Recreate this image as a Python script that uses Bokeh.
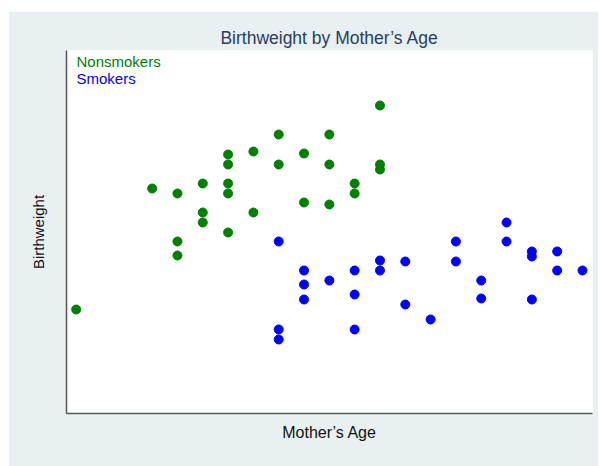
from bokeh.plotting import figure
from bokeh.models import Label, Range1d
from bokeh.embed import file_html
from bokeh.resources import INLINE

# Mother's age (years) and birthweight (grams)
nonsmoker_age = [27, 23, 25, 21, 22, 24, 21, 23, 25, 27, 27, 18, 19, 20, 21, 21,
                 26, 26, 24, 25, 20, 22, 20, 21, 19, 19, 15]
nonsmoker_bw = [4080, 3790, 3790, 3590, 3620, 3600, 3490, 3490, 3490, 3490, 3440,
                3250, 3200, 3300, 3300, 3200, 3300, 3200, 3110, 3090, 3010, 3010,
                2910, 2810, 2720, 2580, 2040]

smoker_age = [23, 24, 24, 24, 25, 26, 26, 26, 27, 27, 28, 28, 29, 30, 30, 31, 31,
              32, 32, 33, 33, 33, 34, 34, 35, 23, 23]
smoker_bw = [2720, 2430, 2290, 2140, 2330, 2430, 2190, 1840, 2530, 2430, 2520,
             2090, 1940, 2720, 2520, 2330, 2150, 2910, 2720, 2620, 2570, 2140,
             2620, 2430, 2430, 1840, 1740]

series_names = ["Nonsmokers", "Smokers"]
series_colors = ["#008000", "#0000ff"]

BG = "#e8f0f2"
FONT = "Liberation Sans"

W, H = 590, 455
BL, BR, BT, BB = 58, 6, 39, 53
FRAME_H = H - BT - BB

p = figure(width=W, height=H, output_backend="svg", toolbar_location=None,
           x_range=Range1d(14.617, 35.395), y_range=Range1d(1000, 4630),
           min_border_left=BL, min_border_right=BR, min_border_top=BT,
           min_border_bottom=BB)
p.margin = (11, 2, 0, 8)
p.background_fill_color = "white"
p.border_fill_color = BG
p.outline_line_color = None
p.grid.visible = False

p.scatter(nonsmoker_age, nonsmoker_bw, size=9, color=series_colors[0])
p.scatter(smoker_age, smoker_bw, size=9, color=series_colors[1])

p.title.text = "Birthweight by Mother\u2019s Age"
p.title.align = "center"
p.title.text_font = FONT
p.title.text_font_size = "17.5px"
p.title.text_font_style = "normal"
p.title.text_color = "#2a3f5f"
p.title.standoff = 6

for ax in (p.xaxis[0], p.yaxis[0]):
    ax.ticker = []
    ax.major_tick_line_color = None
    ax.minor_tick_line_color = None
    ax.major_label_text_font_size = "0px"
    ax.axis_line_color = "#555555"
    ax.axis_line_width = 1.5
    ax.axis_label_text_font = FONT
    ax.axis_label_text_font_style = "normal"
    ax.axis_label_text_color = "#111111"

p.xaxis.axis_label = "Mother\u2019s Age"
p.yaxis.axis_label = "Birthweight"
p.xaxis.axis_label_text_font_size = "16px"
p.yaxis.axis_label_text_font_size = "15px"
p.xaxis.axis_label_standoff = 10
p.yaxis.axis_label_standoff = 20

for i, (name, col) in enumerate(zip(series_names, series_colors)):
    p.add_layout(Label(x=10, y=FRAME_H - 11 - 16.7 * i, x_units="screen",
                       y_units="screen", text=name, text_color=col,
                       text_font=FONT, text_font_size="15px",
                       text_baseline="middle"))

html = file_html(p, INLINE)
html = html.replace("<head>", "<head><style>html,body{overflow:hidden;}</style>", 1)
open("out.html", "w").write(html)
